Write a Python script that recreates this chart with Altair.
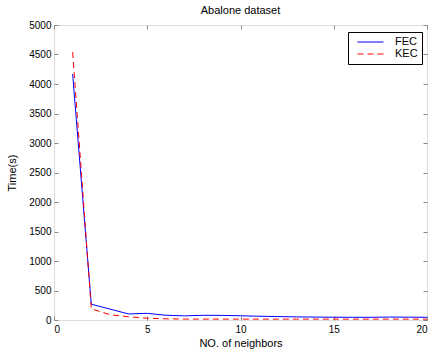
import altair as alt
import pandas as pd

neighbors = list(range(1, 21))
fec = [4170, 268, 185, 103, 113, 80, 70, 80, 78, 72, 64, 58, 53, 49, 47, 46, 46, 50, 48, 46]
kec = [4540, 190, 90, 55, 30, 20, 16, 15, 15, 15, 15, 15, 15, 15, 15, 15, 15, 15, 15, 15]
series = ["FEC", "KEC"]
colors = ["#0000ff", "#ff0000"]
x_ticks = [0, 5, 10, 15, 20]
y_ticks = list(range(0, 5001, 500))

rows = []
for name, vals in zip(series, [fec, kec]):
    for n, v in zip(neighbors, vals):
        rows.append({"n": n, "t": v, "method": name})
df = pd.DataFrame(rows)

FONT = "Liberation Sans"
FS = 11.5
LEG = dict(title=None, orient="none", legendX=294,
           symbolType="stroke", symbolSize=676, symbolStrokeWidth=1,
           clipHeight=12, rowPadding=0, padding=4,
           labelOffset=11, symbolOffset=5,
           labelFontSize=11, labelFont=FONT, labelColor="black")

xscale = alt.Scale(domain=[0, 20], nice=False, zero=False)
yscale = alt.Scale(domain=[0, 5000], nice=False)

x_main = alt.X("n:Q", scale=xscale,
               axis=alt.Axis(values=x_ticks, title="NO. of neighbors", orient="bottom",
                             offset=-4, tickSize=4, domain=False, grid=False,
                             labelPadding=4, titlePadding=3, format="d",
                             titleFontWeight="normal", titleFontSize=11))
y_main = alt.Y("t:Q", scale=yscale,
               axis=alt.Axis(values=y_ticks, title="Time(s)", orient="left",
                             offset=-4, tickSize=4, domain=False, grid=False,
                             labelPadding=3, titlePadding=11, format="d",
                             titleFontWeight="normal", titleFontSize=11))

# FEC line; its legend draws the box and both labels (KEC symbol left transparent)
fec_layer = alt.Chart(df).transform_filter(alt.datum.method == "FEC").mark_line(
    strokeWidth=1, clip=True
).encode(
    x=x_main, y=y_main,
    color=alt.Color("method:N",
                    scale=alt.Scale(domain=series, range=[colors[0], "rgba(0,0,0,0)"]),
                    legend=alt.Legend(legendY=7, fillColor="white", strokeColor="black",
                                      zindex=1, **LEG)),
)

# KEC dashed line; its legend adds the red dashed symbol on the second row
kec_layer = alt.Chart(df).transform_filter(alt.datum.method == "KEC").mark_line(
    strokeWidth=1, clip=True, strokeDash=[6, 4]
).encode(
    x=alt.X("n:Q", scale=xscale, axis=None),
    y=alt.Y("t:Q", scale=yscale, axis=None),
    color=alt.Color("method:N", scale=alt.Scale(domain=["KEC"], range=[colors[1]]),
                    legend=alt.Legend(legendY=19, symbolDash=[6, 4], labelOpacity=0,
                                      zindex=2, **LEG)),
)

frame = alt.Chart(df).mark_line(opacity=0).encode(
    x=alt.X("n:Q", scale=xscale,
            axis=alt.Axis(values=x_ticks, title=None, orient="top", labels=False,
                          offset=-4, tickSize=4, domain=False, grid=False)),
    y=alt.Y("t:Q", scale=yscale,
            axis=alt.Axis(values=y_ticks, title=None, orient="right", labels=False,
                          offset=-4, tickSize=4, domain=False, grid=False)),
    detail="method:N",
)

chart = alt.layer(fec_layer, kec_layer, frame).resolve_scale(
    color="independent"
).resolve_axis(x="independent", y="independent").properties(
    width=373, height=295,
    title=alt.TitleParams("Abalone dataset", fontSize=11, fontWeight="normal", font=FONT,
                          anchor="middle", offset=8, dy=13, baseline="alphabetic", color="black"),
    padding={"left": 54, "top": 25, "right": 5, "bottom": 32},
    autosize=alt.AutoSizeParams(type="none"),
).configure_view(stroke="black", strokeWidth=1.2).configure_axis(
    labelFont=FONT, titleFont=FONT, labelFontSize=FS, titleFontSize=11,
    titleFontWeight="normal", labelColor="black", titleColor="black",
    tickColor="black", tickWidth=1,
).configure_legend(strokeWidth=1.2).configure(background="white")

chart.save("out.html", embed_options={"renderer": "svg", "actions": False})
